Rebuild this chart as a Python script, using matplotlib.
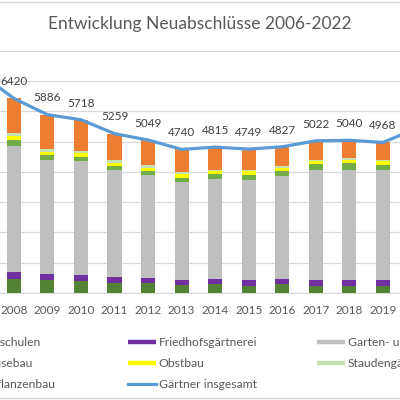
import matplotlib.pyplot as plt
from matplotlib.lines import Line2D
from matplotlib.patches import Rectangle

plt.rcParams['font.family'] = ['Lato', 'DejaVu Sans']

# Gesamtzahl (Linie) - sichtbarer Ausschnitt des Diagramms
jahre_linie = [2007, 2008, 2009, 2010, 2011, 2012, 2013, 2014, 2015, 2016, 2017, 2018, 2019, 2020]
gesamt = [7240, 6420, 5886, 5718, 5259, 5049, 4740, 4815, 4749, 4827, 5022, 5040, 4968, 5430]

# Sparten (gestapelte Säulen)
jahre = [2008, 2009, 2010, 2011, 2012, 2013, 2014, 2015, 2016, 2017, 2018, 2019]
baumschulen = [460, 420, 385, 330, 330, 255, 285, 220, 285, 220, 220, 220]
friedhof = [220, 200, 200, 200, 180, 165, 190, 200, 190, 200, 200, 200]
gala = [4170, 3785, 3760, 3520, 3375, 3245, 3300, 3300, 3375, 3630, 3655, 3630]
gemuese = [200, 165, 145, 130, 130, 145, 165, 190, 165, 200, 200, 165]
obst = [130, 85, 130, 110, 120, 130, 75, 100, 120, 110, 110, 145]
stauden = [90, 110, 65, 90, 75, 55, 35, 45, 45, 45, 55, 45]
zier = [1150, 1120, 1030, 880, 830, 745, 765, 695, 645, 615, 600, 565]

sparten = [
    ("Baumschulen", baumschulen, "#548235"),
    ("Friedhofsgärtnerei", friedhof, "#7030A0"),
    ("Garten- und Landschaftsbau", gala, "#BFBFBF"),
    ("Gemüsebau", gemuese, "#70AD47"),
    ("Obstbau", obst, "#FFFF00"),
    ("Staudengärtnerei", stauden, "#C5E0B4"),
    ("Zierpflanzenbau", zier, "#ED7D31"),
]
linie_farbe = "#5B9BD5"
text_farbe = "#595959"

fig = plt.figure(figsize=(4, 4), dpi=100)
# Ausschnitt: Plotbereich geht links und rechts über das Bild hinaus
ax = fig.add_axes([-0.175, 0.2675, 1.426, 0.606])

unten = [0] * len(jahre)
handles = {}
for name, werte, farbe in sparten:
    ax.bar(jahre, werte, 0.42, bottom=unten, color=farbe, zorder=2)
    unten = [u + w for u, w in zip(unten, werte)]
    handles[name] = Line2D([], [], color=farbe, lw=3.2, solid_capstyle='butt')

ax.plot(jahre_linie, gesamt, color=linie_farbe, lw=2.3, zorder=3)
handles["Gärtner insgesamt"] = Line2D([], [], color=linie_farbe, lw=2.3)
# Beschriftungen nur im sichtbaren Bereich
for j, g in zip(jahre_linie, gesamt):
    if j in jahre:
        ax.annotate(str(g), (j, g), xytext=(0, 12), textcoords='offset points',
                    ha='center', va='center', fontsize=8.5, color='#404040')

ax.set_xlim(2005.5, 2022.5)
ax.set_ylim(0, 8000)
ax.set_yticks(range(0, 8001, 1000))
ax.set_xticks(jahre)
ax.set_xticklabels([str(j) for j in jahre])
ax.yaxis.grid(True, color='#D9D9D9', lw=0.9, zorder=0)
ax.tick_params(length=0, labelsize=8.5, labelcolor=text_farbe, pad=9)
ax.tick_params(axis='y', labelleft=False)
for s in ['top', 'left', 'right']:
    ax.spines[s].set_visible(False)
ax.spines['bottom'].set_color('#D9D9D9')

fig.text(0.5, 0.94, "Entwicklung Neuabschlüsse 2006-2022", ha='center', va='center',
         fontsize=12.5, color=text_farbe)

# Legende in drei Spalten
spalten = [
    ["Baumschulen", "Gemüsebau", "Zierpflanzenbau"],
    ["Friedhofsgärtnerei", "Obstbau", "Gärtner insgesamt"],
    ["Garten- und Landschaftsbau", "Staudengärtnerei"],
]
for i, namen in enumerate(spalten):
    fig.legend([handles[n] for n in namen], namen, loc='upper left',
               bbox_to_anchor=((-61 + 189 * i) / 400, 0.158), frameon=False,
               borderpad=0, borderaxespad=0, handlelength=2.3, handletextpad=0.25,
               labelspacing=0.85, fontsize=8.7, labelcolor=text_farbe)

fig.patches.append(Rectangle((-0.1, 0.004), 1.2, 0.992, transform=fig.transFigure,
                             fill=False, ec='#D9D9D9', lw=1))

fig.savefig('out.png', dpi=100)
